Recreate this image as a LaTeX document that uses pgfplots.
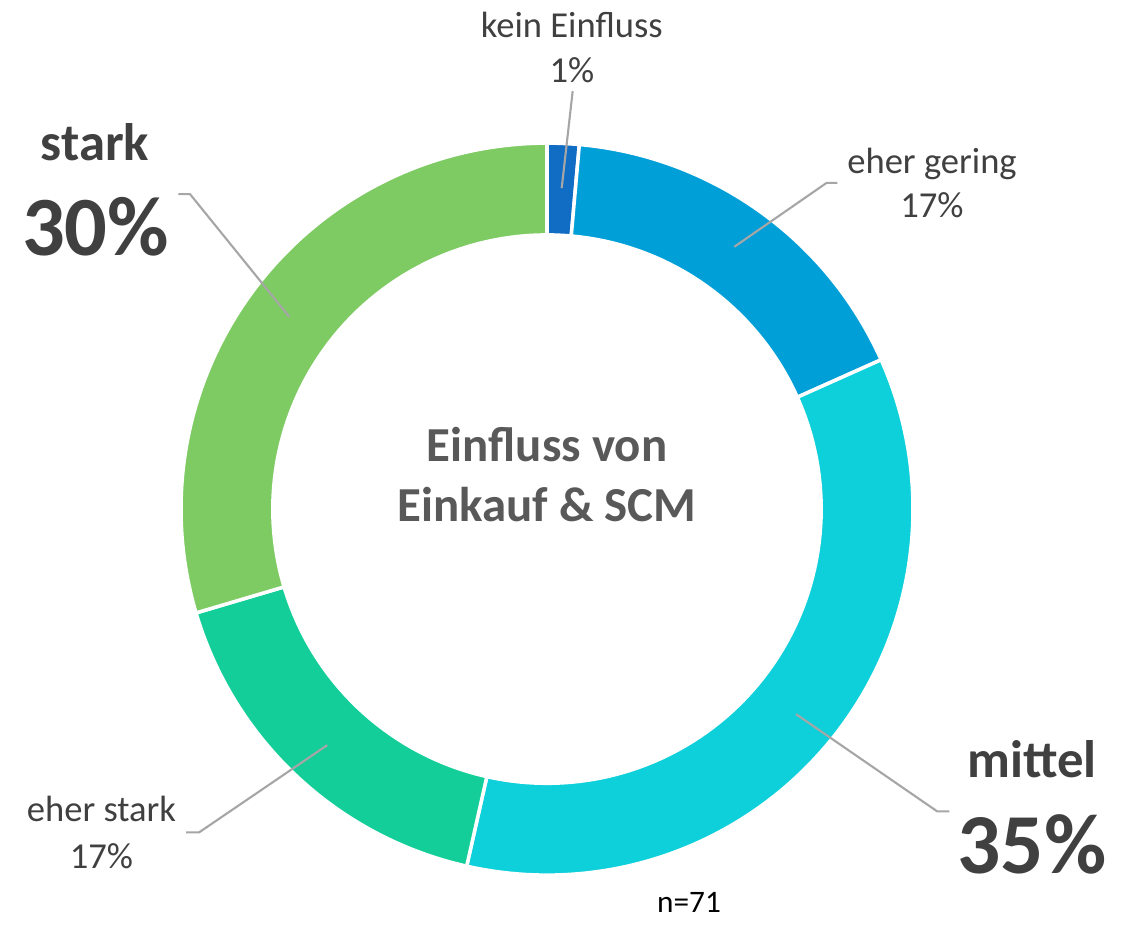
\documentclass[border=0pt]{standalone}
\usepackage{fontspec}
\setmainfont{Carlito}
\usepackage{pgfplots}
\usepackage{pgfplotstable}
\pgfplotsset{compat=1.18}
\definecolor{cA}{HTML}{116CC4}
\definecolor{cB}{HTML}{009FD8}
\definecolor{cC}{HTML}{0ED0DA}
\definecolor{cD}{HTML}{13CE99}
\definecolor{cE}{HTML}{7ECB63}
\definecolor{lbl}{HTML}{404040}
\definecolor{ctr}{HTML}{595959}
\definecolor{lead}{HTML}{A6A6A6}
\pgfplotstableread{
cat value
kein 1
gering 12
mittel 25
eherstark 12
stark 21
}\datatable
\begin{document}
\begin{tikzpicture}
\pgfplotstablegetelem{0}{value}\of\datatable \let\vA\pgfplotsretval
\pgfplotstablegetelem{1}{value}\of\datatable \let\vB\pgfplotsretval
\pgfplotstablegetelem{2}{value}\of\datatable \let\vC\pgfplotsretval
\pgfplotstablegetelem{3}{value}\of\datatable \let\vD\pgfplotsretval
\pgfplotstablegetelem{4}{value}\of\datatable \let\vE\pgfplotsretval
\pgfmathsetmacro\total{\vA+\vB+\vC+\vD+\vE}
\pgfmathsetmacro\aA{90}
\pgfmathsetmacro\aB{\aA-360*\vA/\total}
\pgfmathsetmacro\aC{\aB-360*\vB/\total}
\pgfmathsetmacro\aD{\aC-360*\vC/\total}
\pgfmathsetmacro\aE{\aD-360*\vD/\total}
\pgfmathsetmacro\aF{\aE-360*\vE/\total}
\begin{axis}[
  scale only axis, width=11.35cm, height=9.16cm,
  xmin=-1.4945, xmax=1.6066, ymin=-1.1120, ymax=1.3907,
  hide axis, clip=false,
]
\path (rel axis cs:0,0) rectangle (rel axis cs:1,1);
\addplot[fill=cA, draw=white, line width=1pt, domain=\aB:\aA, samples=20, variable=\t] ({cos(\t)},{sin(\t)}) -- (axis cs:0,0) -- cycle;
\addplot[fill=cB, draw=white, line width=1pt, domain=\aC:\aB, samples=80, variable=\t] ({cos(\t)},{sin(\t)}) -- (axis cs:0,0) -- cycle;
\addplot[fill=cC, draw=white, line width=1pt, domain=\aD:\aC, samples=150, variable=\t] ({cos(\t)},{sin(\t)}) -- (axis cs:0,0) -- cycle;
\addplot[fill=cD, draw=white, line width=1pt, domain=\aE:\aD, samples=80, variable=\t] ({cos(\t)},{sin(\t)}) -- (axis cs:0,0) -- cycle;
\addplot[fill=cE, draw=white, line width=1pt, domain=\aF:\aE, samples=130, variable=\t] ({cos(\t)},{sin(\t)}) -- (axis cs:0,0) -- cycle;
\addplot[fill=white, draw=none, domain=0:360, samples=200, variable=\t] ({0.754*cos(\t)},{0.754*sin(\t)}) -- cycle;
% leader lines
\addplot[lead, line width=0.6pt] coordinates {(0.0702,1.1421) (0.0402,0.8770)};
\addplot[lead, line width=0.6pt] coordinates {(0.7933,0.8915) (0.7642,0.8915) (0.5118,0.7167)};
\addplot[lead, line width=0.6pt] coordinates {(-1.0073,0.8607) (-0.9754,0.8607) (-0.7041,0.5254)};
\addplot[lead, line width=0.6pt] coordinates {(-0.9863,-0.8834) (-0.9508,-0.8834) (-0.6003,-0.6448)};
\addplot[lead, line width=0.6pt] coordinates {(1.0992,-0.826) (1.0664,-0.826) (0.6803,-0.5601)};
% labels
\node[anchor=base, text=lbl, font=\fontsize{10.4}{12}\selectfont] at (axis cs:0.068,1.2896) {kein Einfluss};
\node[anchor=base, text=lbl, font=\fontsize{10.4}{12}\selectfont] at (axis cs:0.068,1.1667) {1\%};
\node[anchor=base, text=lbl, font=\fontsize{10.4}{12}\selectfont] at (axis cs:1.0519,0.918) {eher gering};
\node[anchor=base, text=lbl, font=\fontsize{10.4}{12}\selectfont] at (axis cs:1.0519,0.798) {17\%};
\node[anchor=base, text=lbl, font=\fontsize{10.4}{12}\selectfont] at (axis cs:-1.2172,-0.8544) {eher stark};
\node[anchor=base, text=lbl, font=\fontsize{10.4}{12}\selectfont] at (axis cs:-1.2172,-0.9817) {17\%};
\node[anchor=base, text=lbl, font=\bfseries\fontsize{15}{17}\selectfont] at (axis cs:-1.235,0.9536) {stark};
\node[anchor=base, text=lbl, font=\bfseries\fontsize{24}{28}\selectfont] at (axis cs:-1.233,0.694) {30\%};
\node[anchor=base, text=lbl, font=\bfseries\fontsize{15}{17}\selectfont] at (axis cs:1.325,-0.733) {mittel};
\node[anchor=base, text=lbl, font=\bfseries\fontsize{24.3}{28}\selectfont] at (axis cs:1.325,-0.9954) {35\%};
\node[anchor=base, text=ctr, font=\bfseries\fontsize{13.9}{16}\selectfont] at (axis cs:0,0.129) {Einfluss von};
\node[anchor=base, text=ctr, font=\bfseries\fontsize{13.9}{16}\selectfont] at (axis cs:0,-0.0347) {Einkauf \& SCM};
\node[anchor=base, text=black, font=\fontsize{8.9}{10}\selectfont] at (axis cs:0.388,-1.103) {n=71};
\end{axis}
\end{tikzpicture}
\end{document}
